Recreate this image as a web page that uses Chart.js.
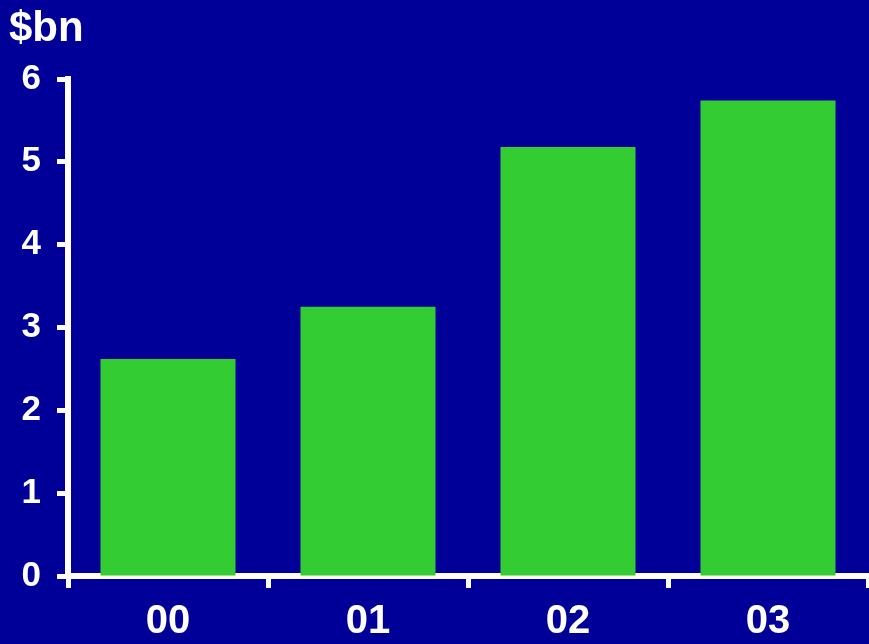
<!DOCTYPE html>
<html>
<head>
<meta charset="utf-8">
<script src="https://cdn.jsdelivr.net/npm/chart.js@4/dist/chart.umd.min.js"></script>
<style>
  html, body { margin: 0; padding: 0; background: #000099; }
  #wrap { width: 869px; height: 644px; }
</style>
</head>
<body>
<div id="wrap"><canvas id="chartBars"></canvas></div>
<script>
const years = ["00", "01", "02", "03"];
const revenue = [2.62, 3.25, 5.18, 5.74];
const yTicks = [0, 1, 2, 3, 4, 5, 6];
const unitLabel = "$bn";

const FONT = "'Liberation Sans', Arial, sans-serif";
const WHITE = "#ffffff";

// unit caption in the top-left corner
const unitPlugin = {
  id: "unitLabel",
  afterDraw(chart) {
    const ctx = chart.ctx;
    ctx.save();
    ctx.fillStyle = WHITE;
    ctx.font = "bold 42px " + FONT;
    ctx.textBaseline = "alphabetic";
    ctx.fillText(unitLabel, 9, 41);
    ctx.restore();
  }
};

new Chart(document.getElementById("chartBars"), {
  type: "bar",
  data: {
    labels: years,
    datasets: [
      {
        data: revenue,
        backgroundColor: "#33cc33",
        borderWidth: 0,
        barPercentage: 0.675,
        categoryPercentage: 1
      }
    ]
  },
  options: {
    responsive: true,
    maintainAspectRatio: false,
    animation: false,
    layout: { padding: { top: 79, right: 1, left: 0, bottom: 0 } },
    plugins: {
      legend: { display: false },
      tooltip: { enabled: false }
    },
    scales: {
      x: {
        offset: true,
        border: { color: WHITE, width: 6 },
        grid: {
          offset: true,
          drawOnChartArea: false,
          drawTicks: true,
          tickLength: 12,
          tickWidth: 5,
          tickColor: WHITE
        },
        ticks: {
          color: WHITE,
          padding: 10,
          font: { family: FONT, size: 40, weight: "bold" }
        },
        afterFit(scale) { scale.height = 68; }
      },
      y: {
        min: 0,
        max: 6,
        afterBuildTicks(scale) {
          scale.ticks = yTicks.map((v) => ({ value: v }));
        },
        border: { color: WHITE, width: 6 },
        grid: {
          drawOnChartArea: false,
          drawTicks: true,
          tickLength: 11,
          tickWidth: 5,
          tickColor: WHITE
        },
        ticks: {
          color: WHITE,
          padding: 16,
          font: { family: FONT, size: 35, weight: "bold" }
        },
        afterFit(scale) { scale.width = 68; }
      }
    }
  },
  plugins: [unitPlugin]
});
</script>
</body>
</html>
